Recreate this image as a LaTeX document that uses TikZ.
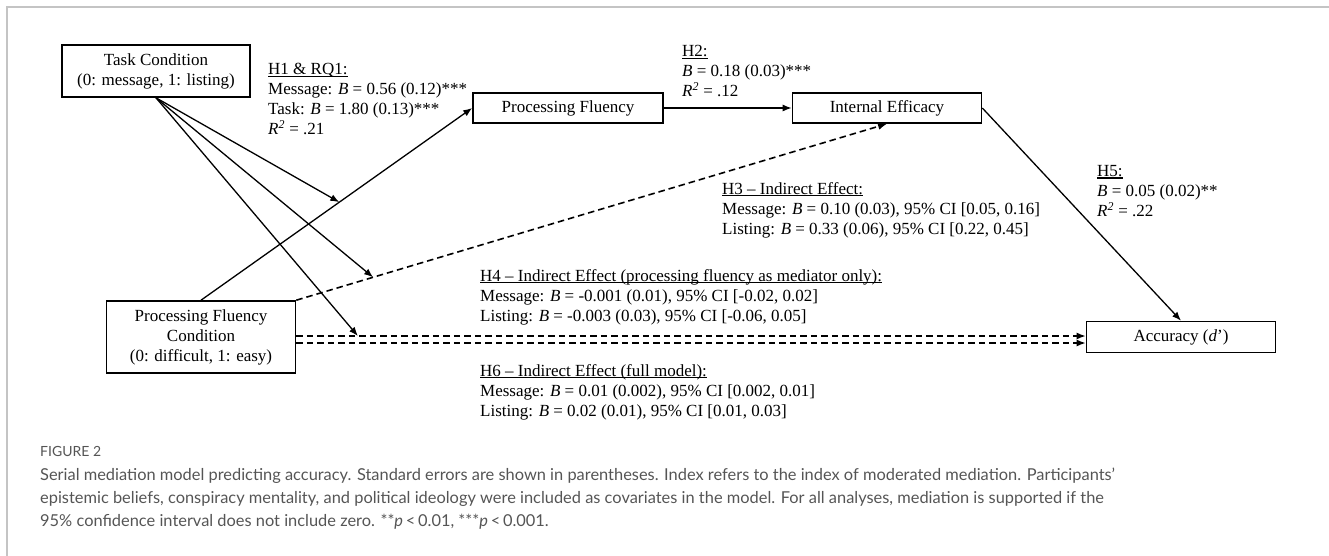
\documentclass[tikz,border=0pt]{standalone}
\usepackage{fontspec}
\setmainfont{Liberation Serif}
\newfontfamily\capfont{Lato}
\usetikzlibrary{arrows.meta, positioning}
\definecolor{capgray}{HTML}{555555}
\definecolor{framegray}{HTML}{C4C4C4}
\newcommand\hypline[1]{\setbox0\hbox{#1}\rlap{\rule[-2.2pt]{\wd0}{1.1pt}}\box0}

\begin{document}
\begin{tikzpicture}[x=1pt, y=-1pt,
  box/.style={draw, line width=1.6pt, inner sep=0pt, align=center, font=\fontsize{17}{20}\selectfont},
  path/.style={line width=1.3pt, -{Latex[length=9pt, width=7pt]}},
  ind/.style={path, dash pattern=on 6.5pt off 4pt, line width=1.6pt},
  lab/.style={anchor=north west, inner sep=0pt, align=left, font=\fontsize{17}{20}\selectfont}]

\useasboundingbox (0,0) rectangle (1329,556);
\draw[framegray, line width=1.5pt] (7,556) -- (7,7) -- (1329,7);

\node[box, minimum width=188pt, minimum height=52pt] (task) at (156,71) {Task Condition\\(0: message, 1: listing)};
\node[box, minimum width=189pt, minimum height=72pt] (pfc) at (201,337) {Processing Fluency\\Condition\\(0: difficult, 1: easy)};
\node[box, minimum width=190pt, minimum height=30pt] (pf) at (568,108) {Processing Fluency};
\node[box, minimum width=189pt, minimum height=30pt] (ie) at (887,108) {Internal Efficacy};
\node[box, minimum width=189pt, minimum height=31pt] (acc) at (1181,337) {Accuracy (\textit{d}’)};

\draw[path] (pfc.north) -- coordinate[pos=.51] (fluA) (pf.west);
\draw[path] (pf.east) -- (ie.west);
\draw[path] (ie.east) -- (acc.north);
\draw[ind] (pfc.north east) -- coordinate[pos=.13] (fluB) (ie.south);
\draw[ind] ([yshift=1pt]pfc.east) -- coordinate[pos=.078] (fluC) ([yshift=1pt]acc.west);
\draw[ind] ([yshift=-6pt]pfc.east) -- ([yshift=-6pt]acc.west);
\foreach \t in {fluA, fluB, fluC}
  \draw[path] (task.south) -- (\t);

\node[lab] (h1) at (268,63) {\hypline{H1 \& RQ1:}\\Message: \textit{B} = 0.56 (0.12)***\\Task: \textit{B} = 1.80 (0.13)***\\\textit{R}\textsuperscript{\textit{2}} = .21};
\node[lab] (h2) at (682,45) {\hypline{H2:}\\\textit{B} = 0.18 (0.03)***\\\textit{R}\textsuperscript{\textit{2}} = .12};
\node[lab] (h3) at (722,182) {\hypline{H3 – Indirect Effect:}\\Message: \textit{B} = 0.10 (0.03), 95\% CI [0.05, 0.16]\\Listing: \textit{B} = 0.33 (0.06), 95\% CI [0.22, 0.45]};
\node[lab] (h4) at (480,269) {\hypline{H4 – Indirect Effect (processing fluency as mediator only):}\\Message: \textit{B} = -0.001 (0.01), 95\% CI [-0.02, 0.02]\\Listing: \textit{B} = -0.003 (0.03), 95\% CI [-0.06, 0.05]};
\node[lab] (h5) at (1097,165) {\hypline{H5:}\\\textit{B} = 0.05 (0.02)**\\\textit{R}\textsuperscript{\textit{2}} = .22};
\node[lab] (h6) at (480,364) {\hypline{H6 – Indirect Effect (full model):}\\Message: \textit{B} = 0.01 (0.002), 95\% CI [0.002, 0.01]\\Listing: \textit{B} = 0.02 (0.01), 95\% CI [0.01, 0.03]};

\node[anchor=base west, inner sep=0pt, text=capgray, font=\capfont\fontsize{14}{16}\selectfont] (fig) at (40,456) {FIGURE 2};
\node[anchor=north west, inner sep=0pt, align=left, text=capgray, font=\capfont\fontsize{16.4}{23}\selectfont] (cap) at (40,468) {Serial mediation model predicting accuracy. Standard errors are shown in parentheses. Index refers to the index of moderated mediation. Participants’\\epistemic beliefs, conspiracy mentality, and political ideology were included as covariates in the model. For all analyses, mediation is supported if the\\95\% confidence interval does not include zero. **\textit{p}\,<\,0.01, ***\textit{p}\,<\,0.001.};
\end{tikzpicture}
\end{document}
